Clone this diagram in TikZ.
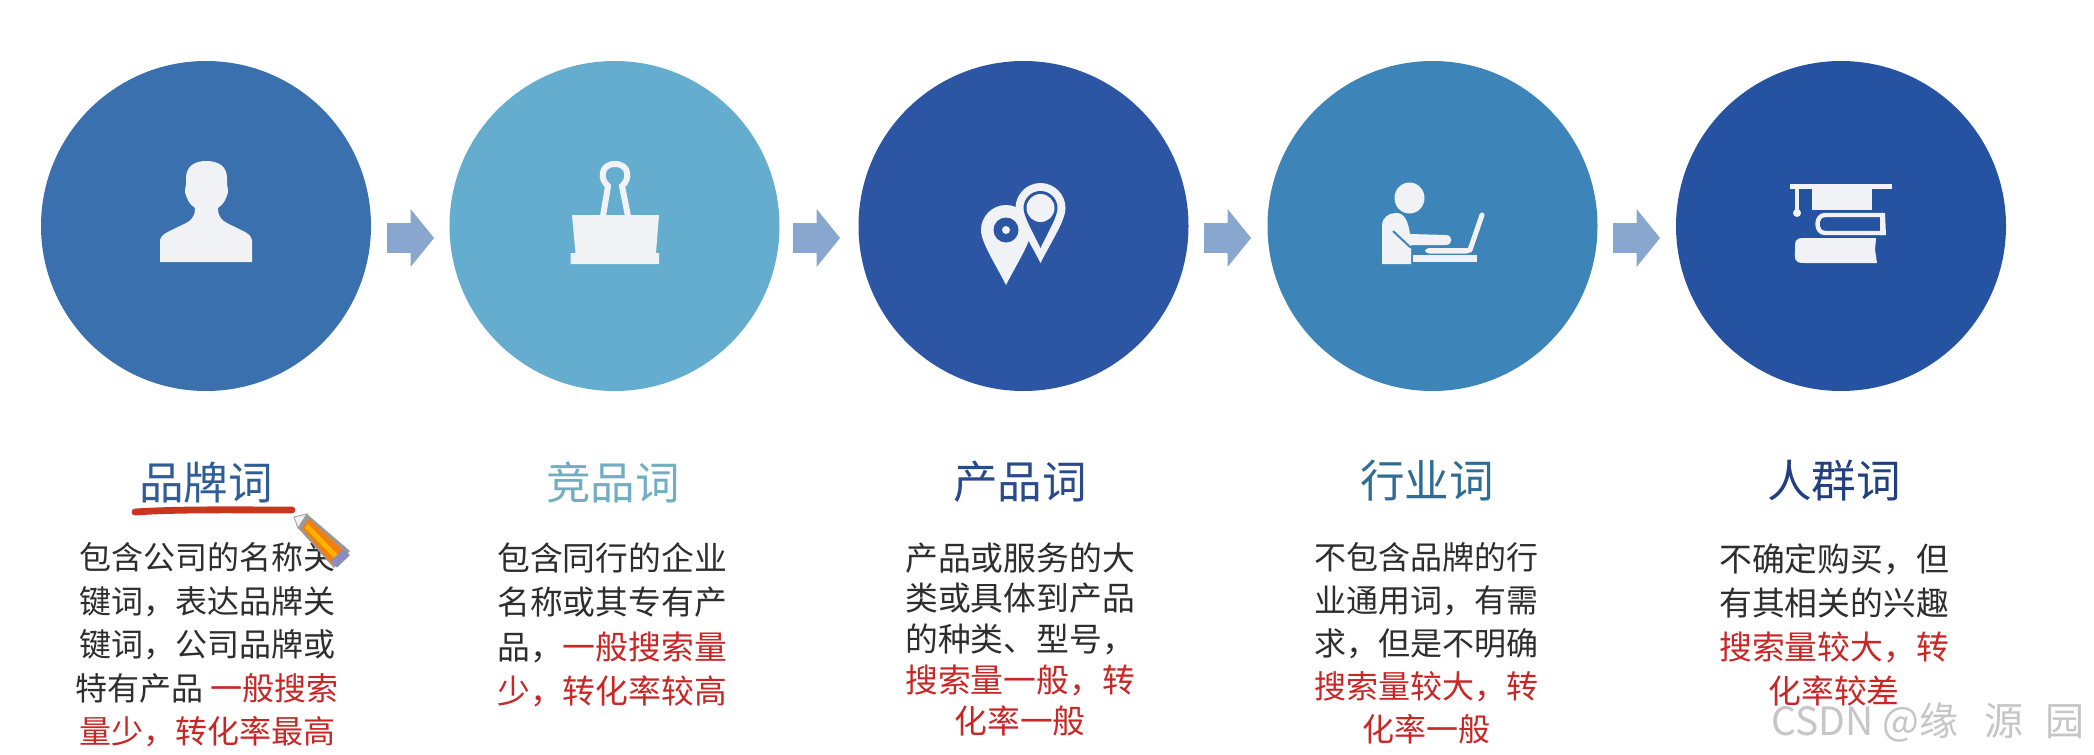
\documentclass[tikz,border=0pt]{standalone}
\usepackage{fontspec}
\setmainfont{Noto Sans CJK SC}
\usetikzlibrary{shapes.arrows}
\definecolor{cA}{HTML}{3A70AE}
\definecolor{cB}{HTML}{64ADCE}
\definecolor{cC}{HTML}{2C56A4}
\definecolor{cD}{HTML}{3D84B8}
\definecolor{cE}{HTML}{2553A2}
\definecolor{arrowblue}{HTML}{88A6CE}
\definecolor{iconwhite}{HTML}{F1F2F5}
\definecolor{tA}{HTML}{2F5E96}
\definecolor{tB}{HTML}{72AEC2}
\definecolor{tC}{HTML}{2A4A8A}
\definecolor{tD}{HTML}{2E6C96}
\definecolor{tE}{HTML}{223F80}
\definecolor{bodytext}{HTML}{2E2E2E}
\definecolor{redtext}{HTML}{C92626}
\definecolor{underlinered}{HTML}{C8361E}
\definecolor{markgray}{HTML}{C6C6C6}
\tikzset{
  bubble/.style={circle,minimum size=165pt,inner sep=0pt,outer sep=0pt,fill=#1},
  flowarrow/.style={single arrow,draw=none,fill=arrowblue,minimum height=23.5pt,minimum width=28.5pt,
    text height=14.5pt,text depth=0pt,text width=0pt,
    single arrow head extend=7pt,single arrow tip angle=102,single arrow head indent=0pt,inner sep=0pt,outer sep=0pt},
  heading/.style={font=\fontsize{22.3}{26}\selectfont,text=#1,inner sep=0pt},
  desc/.style={text=bodytext,align=center,anchor=north,inner sep=0pt},
  icon/.style={fill=iconwhite,draw=none},
  iconline/.style={draw=iconwhite,line width=2.5pt,fill=none}
}
\newcommand{\red}[1]{\textcolor{redtext}{#1}}
\newcommand{\teardrop}[4]{(#1,{#2+#4}) .. controls ({#1-0.42*#3},{#2+0.62*#4}) and ({#1-#3},{#2+0.5*#3}) .. ({#1-#3},#2) .. controls ({#1-#3},{#2-0.55*#3}) and ({#1-0.55*#3},{#2-#3}) .. (#1,{#2-#3}) .. controls ({#1+0.55*#3},{#2-#3}) and ({#1+#3},{#2-0.55*#3}) .. ({#1+#3},#2) .. controls ({#1+#3},{#2+0.5*#3}) and ({#1+0.42*#3},{#2+0.62*#4}) .. (#1,{#2+#4}) -- cycle}
\begin{document}
\begin{tikzpicture}[x=0.5pt,y=-0.5pt]
\useasboundingbox (0,0) rectangle (2094,755);
\fill[white] (0,0) rectangle (2094,755);
% circles
\node[bubble=cA] (c1) at (206,226) {};
\node[bubble=cB] (c2) at (614.5,226) {};
\node[bubble=cC] (c3) at (1023.5,226) {};
\node[bubble=cD] (c4) at (1432.5,226) {};
\node[bubble=cE] (c5) at (1841,226) {};
% block arrows
\node[flowarrow] (a1) at (404.5,238) {};
\node[flowarrow] (a2) at (810.5,238) {};
\node[flowarrow] (a3) at (1221.5,238) {};
\node[flowarrow] (a4) at (1630.5,238) {};
% person icon
\fill[icon] (160,262) -- (160,240) .. controls (161,234) and (168,232) .. (180,226)
 .. controls (191,221) and (195,218) .. (195,208) .. controls (190,205) and (185,197) .. (185,190)
 .. controls (185,188) and (186,186) .. (186,184) -- (186,178) .. controls (186,166) and (195,161) .. (206,161)
 .. controls (218,161) and (227,166) .. (227,178) -- (227,184) .. controls (227,186) and (228,188) .. (228,190)
 .. controls (228,197) and (223,205) .. (218,208) .. controls (218,218) and (222,221) .. (233,226)
 .. controls (245,232) and (251,234) .. (252,240) -- (252,262) -- cycle;
% binder clip icon
\fill[icon] (572,215) -- (659,215) -- (656,253) -- (659,253) -- (659,264) -- (570.5,264) -- (570.5,253) -- (575.5,253) -- cycle;
\draw[iconline,line width=3pt] (603,216) -- (608,186) .. controls (600,180) and (600,164) .. (615,164)
 .. controls (630,164) and (630,180) .. (622,186) -- (628,216);
% map pins
\fill[icon] \teardrop{1006}{230}{25}{55};
\fill[cC] (1006,230) circle[radius=12.5];
\fill[icon] (1006,230) circle[radius=4];
\fill[icon] \teardrop{1040.5}{208}{25}{55};
\fill[cC] \teardrop{1040.5}{208}{17}{40};
\fill[icon] (1040.5,208) circle[radius=14];
% laptop user icon
\fill[icon] (1409.5,198) ellipse[x radius=15,y radius=15.5];
\fill[icon] (1382,264) -- (1382,226) .. controls (1382,217) and (1389,213) .. (1396,213)
 .. controls (1404,213) and (1408,220) .. (1410,234) -- (1446,235) .. controls (1453,235) and (1453,245) .. (1446,245)
 -- (1411,245) -- (1411,264) -- cycle;
\draw[draw=cD,line width=1pt] (1393,231) -- (1410,247) -- (1424,247);
\fill[icon] (1413,255) rectangle (1477,262);
\fill[icon,rounded corners=2pt] (1425,248) rectangle (1471,253.5);
\draw[iconline,line cap=round] (1470,250) -- (1482,215);
% graduation and books icon
\fill[icon] (1790,184) rectangle (1892,189);
\fill[icon] (1812,189) -- (1872,189) -- (1872,210) -- (1812,210) -- cycle;
\fill[icon] (1795,189) rectangle (1799,210);
\fill[icon] (1797,213) circle[radius=4];
\draw[iconline,line width=2.2pt] (1884,215) -- (1825,215) .. controls (1815,215) and (1815,233) .. (1825,233) -- (1884,233);
\fill[icon] (1880,213) -- (1885,213) -- (1886,235) -- (1880,235) -- cycle;
\fill[icon] (1804,238) -- (1876,238) -- (1875,250) -- (1877,263) -- (1804,263) .. controls (1793,263) and (1795,258) .. (1795,250) .. controls (1795,242) and (1794,238) .. (1804,238) -- cycle;
% headings
\node[heading=tA] (h1) at (206,483) {品牌词};
\node[heading=tB] (h2) at (613,482) {竞品词};
\node[heading=tC] (h3) at (1020,482) {产品词};
\node[heading=tD] (h4) at (1427,481) {行业词};
\node[heading=tE] (h5) at (1834,481) {人群词};
% descriptions
\node[desc,font=\fontsize{16}{21.8}\selectfont] (d1) at (207,542) {包含公司的名称关\\键词，表达品牌关\\键词，公司品牌或\\特有产品 \red{一般搜索}\\\red{量少，转化率最高}};
\node[desc,font=\fontsize{16.4}{22.2}\selectfont] (d2) at (612,542) {包含同行的企业\\名称或其专有产\\品，\red{一般搜索量}\\\red{少，转化率较高}};
\node[desc,font=\fontsize{16.4}{20.4}\selectfont] (d3) at (1020,542) {产品或服务的大\\类或具体到产品\\的种类、型号，\\\red{搜索量一般，转}\\\red{化率一般}};
\node[desc,font=\fontsize{16}{21.5}\selectfont] (d4) at (1426,542) {不包含品牌的行\\业通用词，有需\\求，但是不明确\\\red{搜索量较大，转}\\\red{化率一般}};
\node[desc,font=\fontsize{16.4}{22}\selectfont] (d5) at (1834,543) {不确定购买，但\\有其相关的兴趣\\\red{搜索量较大，转}\\\red{化率较差}};
% hand-drawn underline and pencil
\draw[underlinered,line width=3.4pt,line cap=round] (135,512) .. controls (180,509) and (240,510) .. (292,510);
\fill[white!90!gray,draw=gray!70,line width=0.5pt] (294,517) -- (307,514) -- (298,528) -- cycle;
\fill[gray!80] (307,514) -- (350,551) -- (334,568) -- (298,528) -- cycle;
\fill[orange!80!brown] (309,519) -- (345,552) -- (332,564) -- (302,528) -- cycle;
\fill[orange!60!yellow] (308,524) -- (339,556) -- (335,559) -- (305,528) -- cycle;
\fill[blue!30!gray!70] (343,549) -- (350,555) -- (337,567.5) -- (331,561) -- cycle;
% watermark
\node[anchor=base west,inner sep=0pt,text=markgray,font=\fontsize{19.5}{24}\selectfont] (wm) at (1771,735) {CSDN @缘\hspace{13pt}源\hspace{11pt}园};
\end{tikzpicture}
\end{document}
